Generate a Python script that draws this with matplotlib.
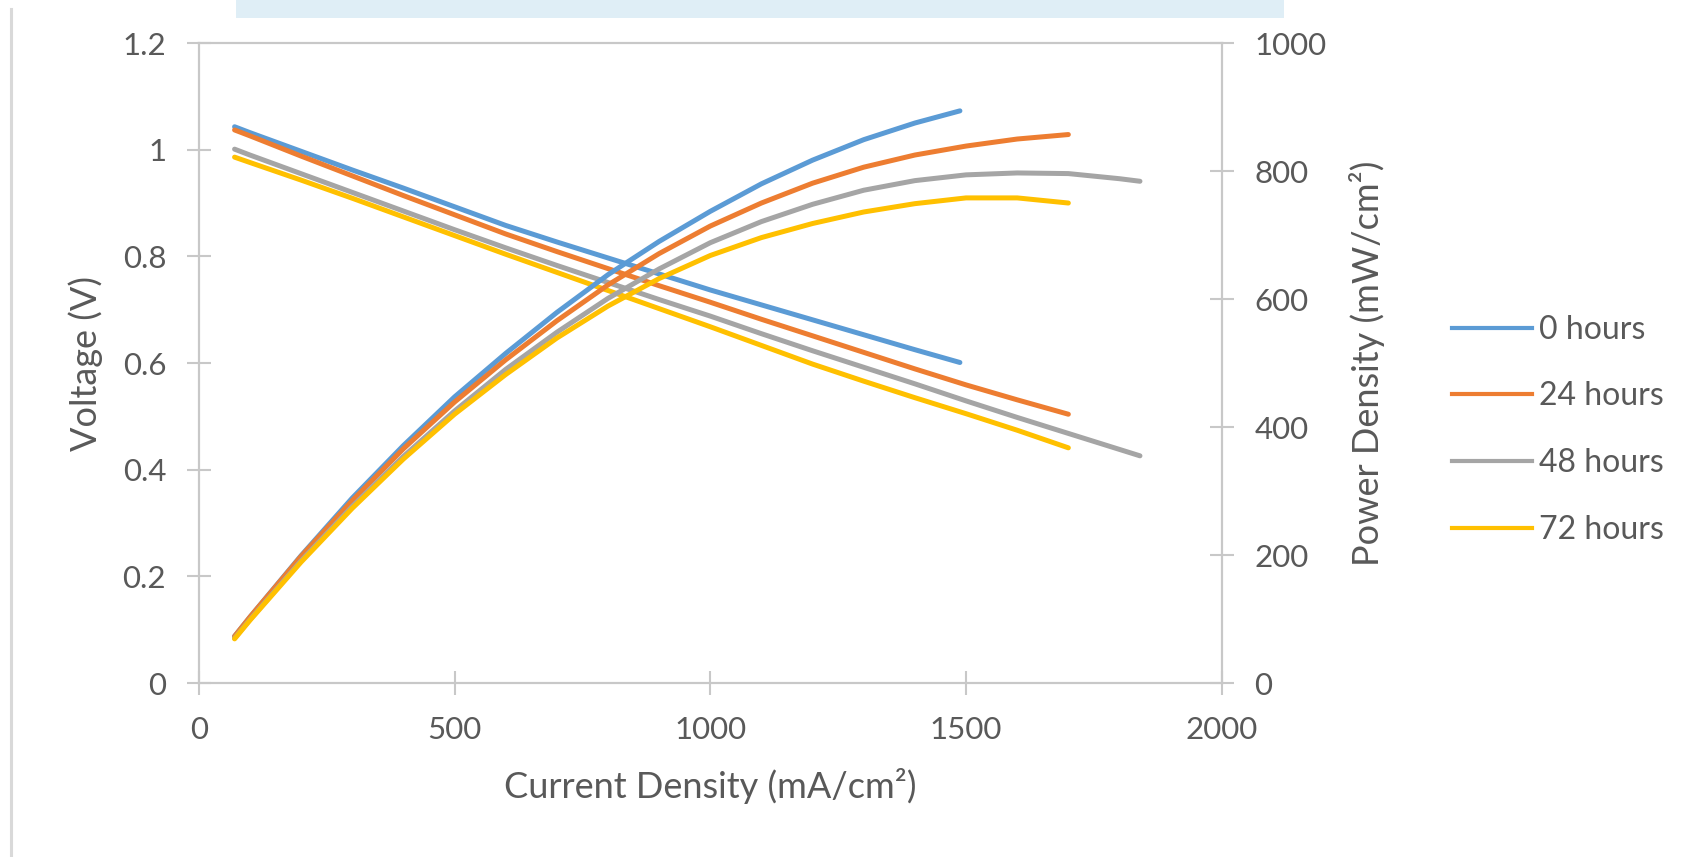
import matplotlib.pyplot as plt
from matplotlib.lines import Line2D
from matplotlib.patches import Rectangle

plt.rcParams['font.family'] = ['Lato', 'DejaVu Sans']

# values
series_names = ['0 hours', '24 hours', '48 hours', '72 hours']
colors = ['#5B9BD5', '#ED7D31', '#A5A5A5', '#FFC000']

current_0h = [70, 100, 200, 300, 400, 500, 600, 700, 800, 900, 1000, 1100, 1200, 1300, 1400, 1488]
voltage_0h = [1.043, 1.032, 0.997, 0.962, 0.928, 0.893, 0.858, 0.827, 0.797, 0.767, 0.737,
              0.709, 0.681, 0.653, 0.625, 0.601]
power_0h = [73, 103, 199, 289, 371, 447, 515, 579, 638, 690, 737, 780, 817, 849, 875, 894]

current_24h = [70, 100, 200, 300, 400, 500, 600, 700, 800, 900, 1000, 1100, 1200, 1300, 1400,
               1500, 1600, 1700]
voltage_24h = [1.037, 1.026, 0.988, 0.951, 0.914, 0.878, 0.842, 0.809, 0.777, 0.745, 0.714,
               0.682, 0.651, 0.620, 0.589, 0.559, 0.531, 0.504]
power_24h = [73, 103, 198, 285, 366, 439, 505, 566, 622, 671, 714, 750, 781, 806, 825, 839, 850, 857]

current_48h = [70, 100, 200, 300, 400, 500, 600, 700, 800, 900, 1000, 1100, 1200, 1300, 1400,
               1500, 1600, 1700, 1800, 1840]
voltage_48h = [1.001, 0.990, 0.955, 0.920, 0.885, 0.850, 0.816, 0.783, 0.751, 0.719, 0.688,
               0.655, 0.623, 0.592, 0.561, 0.529, 0.498, 0.468, 0.438, 0.426]
power_48h = [70, 99, 191, 276, 354, 425, 490, 548, 601, 647, 688, 721, 748, 770, 785, 794, 797,
             796, 788, 784]

current_72h = [70, 100, 200, 300, 400, 500, 600, 700, 800, 900, 1000, 1100, 1200, 1300, 1400,
               1500, 1600, 1700]
voltage_72h = [0.986, 0.976, 0.943, 0.909, 0.874, 0.839, 0.804, 0.770, 0.736, 0.702, 0.668,
               0.633, 0.598, 0.566, 0.535, 0.505, 0.474, 0.441]
power_72h = [69, 98, 189, 273, 350, 420, 482, 539, 589, 632, 668, 696, 718, 736, 749, 758, 758, 750]

currents = [current_0h, current_24h, current_48h, current_72h]
voltages = [voltage_0h, voltage_24h, voltage_48h, voltage_72h]
powers = [power_0h, power_24h, power_48h, power_72h]

volt_ticks = [0, 0.2, 0.4, 0.6, 0.8, 1.0, 1.2]
volt_labels = ['0', '0.2', '0.4', '0.6', '0.8', '1', '1.2']
power_ticks = [0, 200, 400, 600, 800, 1000]
current_ticks = [0, 500, 1000, 1500, 2000]

axis_col = '#C8C8C8'
text_col = '#595959'

fig = plt.figure(figsize=(16.96, 8.57), dpi=100)
ax = fig.add_axes([0.1172, 0.2030, 0.6032, 0.7468])
ax2 = ax.twinx()

for name, col, cur, volt, pw in zip(series_names, colors, currents, voltages, powers):
    ax.plot(cur, volt, color=col, lw=3.6, solid_capstyle='round', solid_joinstyle='round')
    ax2.plot(cur, pw, color=col, lw=3.6, solid_capstyle='round', solid_joinstyle='round')

ax.set_xlim(0, 2000)
ax.set_ylim(0, 1.2)
ax2.set_ylim(0, 1000)
ax.set_xticks(current_ticks)
ax.set_yticks(volt_ticks)
ax.set_yticklabels(volt_labels)
ax2.set_yticks(power_ticks)

for a in (ax, ax2):
    for s in a.spines.values():
        s.set_color(axis_col)
        s.set_linewidth(1.5)

ax.tick_params(axis='both', direction='inout', length=17, width=1.5, color=axis_col,
               labelcolor=text_col, labelsize=22.5, pad=15)
ax2.tick_params(axis='y', direction='inout', length=17, width=1.5, color=axis_col,
                labelcolor=text_col, labelsize=22.5, pad=15)

ax.set_xlabel('Current Density (mA/cm²)', fontsize=26, color=text_col)
ax.set_ylabel('Voltage (V)', fontsize=26, color=text_col)
ax2.set_ylabel('Power Density (mW/cm²)', fontsize=26, color=text_col)
ax.xaxis.set_label_coords(0.5, -0.132)
ax.yaxis.set_label_coords(-0.094, 0.5)
ax2.yaxis.set_label_coords(1.124, 0.5)

handles = [Line2D([], [], color=c, lw=3) for c in colors]
fig.legend(handles, series_names, loc='center left', bbox_to_anchor=(0.856, 0.4985),
           frameon=False, fontsize=23, labelcolor=text_col, handlelength=2.5,
           handletextpad=0.24, labelspacing=1.15, borderpad=0, borderaxespad=0)

# pieces of the surrounding slide
fig.add_artist(Rectangle((236 / 1696, 1 - 18.4 / 857), (1284 - 236) / 1696, 18.4 / 857,
                         transform=fig.transFigure, color='#DFEEF6', lw=0))
fig.add_artist(Line2D([11 / 1696, 11 / 1696], [0, 1 - 9 / 857], transform=fig.transFigure,
                      color='#D9D9D9', lw=2.2))

fig.savefig('out.png', dpi=100)
